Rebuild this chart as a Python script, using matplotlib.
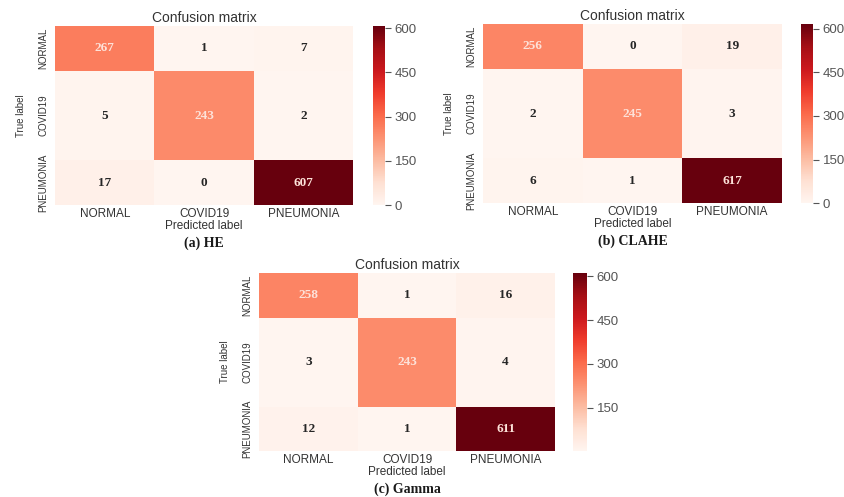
import numpy as np
import matplotlib.pyplot as plt

classes = ["NORMAL", "COVID19", "PNEUMONIA"]

cm_he = np.array([[267, 1, 7],
                  [5, 243, 2],
                  [17, 0, 607]])
cm_clahe = np.array([[256, 0, 19],
                     [2, 245, 3],
                     [6, 1, 617]])
cm_gamma = np.array([[258, 1, 16],
                     [3, 243, 4],
                     [12, 1, 611]])

captions = ["(a) HE", "(b) CLAHE", "(c) Gamma"]
cbar_ticks = [0, 150, 300, 450, 600]

# middle row is drawn twice as tall as the others
row_edges = [0, 1, 3, 4]
col_edges = [0, 1, 2, 3]

plt.rcParams["font.family"] = "Liberation Sans"
txt_col = "#333333"

fig = plt.figure(figsize=(8.44, 4.97), dpi=100)


def draw_cm(cm, caption, ax_rect, cb_rect):
    ax = fig.add_axes(ax_rect)
    cax = fig.add_axes(cb_rect)
    mesh = ax.pcolormesh(col_edges, row_edges, cm, cmap="Reds",
                         vmin=cm.min(), vmax=cm.max())
    ax.set_xlim(0, 3)
    ax.set_ylim(4, 0)

    row_mid = [(row_edges[i] + row_edges[i + 1]) / 2 for i in range(3)]
    col_mid = [(col_edges[j] + col_edges[j + 1]) / 2 for j in range(3)]
    for i in range(3):
        for j in range(3):
            v = cm[i, j]
            c = "#fde2d9" if v > 200 else "#262626"
            ax.text(col_mid[j], row_mid[i], str(v), ha="center", va="center",
                    fontsize=9.5, fontweight="bold", family="Liberation Serif",
                    color=c)

    ax.set_xticks(col_mid)
    ax.set_xticklabels(classes, fontsize=8.5)
    ax.set_yticks(row_mid)
    ax.set_yticklabels(classes, rotation=90, va="center", fontsize=7)
    ax.tick_params(axis="x", length=0, colors=txt_col, pad=2)
    ax.tick_params(axis="y", length=0, colors=txt_col, pad=5)
    for s in ax.spines.values():
        s.set_visible(False)

    ax.set_title("Confusion matrix", fontsize=10, color=txt_col, pad=3)
    ax.set_xlabel("Predicted label", fontsize=8.5, color=txt_col, labelpad=0)
    ax.set_ylabel("True label", fontsize=7, color=txt_col, labelpad=9)
    ax.annotate(caption, xy=(0.5, 0), xycoords="axes fraction",
                xytext=(0, -42), textcoords="offset pixels",
                ha="center", va="baseline", fontsize=10, fontweight="bold",
                family="Liberation Serif", color="#1a1a1a")

    cb = fig.colorbar(mesh, cax=cax)
    cb.set_ticks([t for t in cbar_ticks if cm.min() <= t <= cm.max()])
    cb.outline.set_visible(False)
    cax.tick_params(length=4, width=0.8, colors="#555555", labelsize=9.5, pad=3)


draw_cm(cm_he, captions[0], [0.0652, 0.5875, 0.3531, 0.3602], [0.4419, 0.5875, 0.0142, 0.3602])
draw_cm(cm_clahe, captions[1], [0.5723, 0.5915, 0.3543, 0.3602], [0.9491, 0.5915, 0.0142, 0.3602])
draw_cm(cm_gamma, captions[2], [0.3069, 0.0925, 0.3507, 0.3581], [0.6789, 0.0925, 0.0166, 0.3581])

fig.savefig("out.png", dpi=100, facecolor="white")
